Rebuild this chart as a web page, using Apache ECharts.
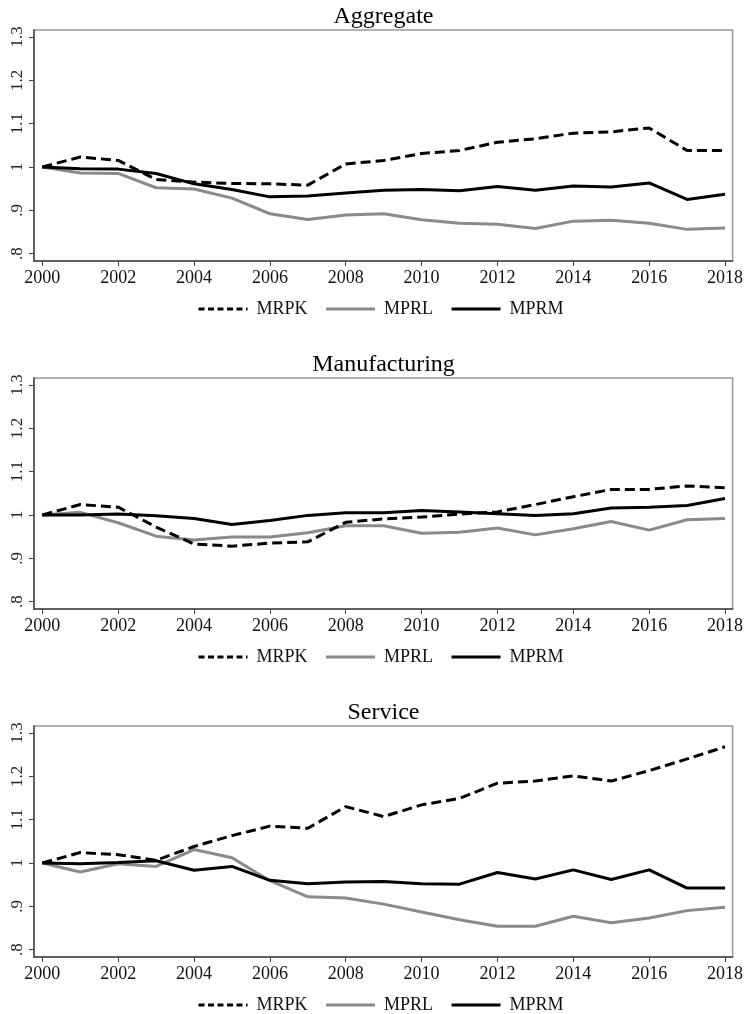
<!DOCTYPE html>
<html>
<head>
<meta charset="utf-8">
<script src="https://cdn.jsdelivr.net/npm/echarts@6/dist/echarts.min.js"></script>
<style>
html,body{margin:0;padding:0;background:#fff;}
#c{width:746px;height:1014px;}
</style>
</head>
<body>
<div id="c"></div>
<script>
const years = [2000,2001,2002,2003,2004,2005,2006,2007,2008,2009,2010,2011,2012,2013,2014,2015,2016,2017,2018];
const xTicks = [2000,2002,2004,2006,2008,2010,2012,2014,2016,2018];
const yTicks = [0.8,0.9,1.0,1.1,1.2,1.3];
const panelTitles = ['Aggregate','Manufacturing','Service'];
const seriesNames = ['MRPK','MPRL','MPRM'];

const aggMRPK = [1.000,1.023,1.015,0.971,0.965,0.962,0.961,0.958,1.007,1.015,1.031,1.038,1.057,1.065,1.078,1.081,1.090,1.038,1.038];
const aggMPRL = [1.000,0.986,0.985,0.952,0.949,0.928,0.892,0.879,0.889,0.892,0.878,0.870,0.868,0.858,0.875,0.877,0.870,0.856,0.859];
const aggMPRM = [1.000,0.996,0.995,0.985,0.961,0.948,0.931,0.933,0.940,0.946,0.948,0.945,0.955,0.946,0.956,0.954,0.963,0.925,0.937];

const manMRPK = [1.000,1.024,1.018,0.972,0.933,0.928,0.935,0.938,0.983,0.991,0.995,1.002,1.007,1.024,1.042,1.059,1.059,1.067,1.063];
const manMPRL = [1.000,1.006,0.982,0.951,0.942,0.949,0.949,0.959,0.975,0.975,0.958,0.960,0.970,0.954,0.968,0.985,0.965,0.989,0.992];
const manMPRM = [1.000,1.000,1.002,0.998,0.992,0.978,0.987,0.999,1.005,1.005,1.010,1.007,1.003,0.999,1.003,1.016,1.018,1.022,1.038];

const serMRPK = [1.000,1.024,1.019,1.006,1.038,1.063,1.085,1.080,1.130,1.107,1.134,1.149,1.184,1.189,1.201,1.189,1.213,1.240,1.268];
const serMPRL = [1.000,0.979,0.998,0.992,1.031,1.012,0.959,0.922,0.919,0.905,0.887,0.869,0.854,0.854,0.877,0.862,0.873,0.890,0.898];
const serMPRM = [1.000,0.998,1.001,1.005,0.983,0.992,0.960,0.952,0.956,0.957,0.952,0.951,0.978,0.963,0.984,0.962,0.984,0.942,0.942];

const panels = [
  [aggMRPK, aggMPRL, aggMPRM],
  [manMRPK, manMPRL, manMPRM],
  [serMRPK, serMPRL, serMPRM]
];

const gridTops = [30, 378, 726];
const gridH = 231;
const FONT = '"Liberation Serif","Times New Roman",serif';

const styles = [
  {color:'#000', width:3, type:[10,5]},
  {color:'#8a8a8a', width:3, type:'solid'},
  {color:'#000', width:3, type:'solid'}
];

const option = {
  backgroundColor:'#fff',
  animation:false,
  title: [], grid: [], xAxis: [], yAxis: [], series: [], legend: []
};

function yFmt(v){
  const r = Math.round(v*10)/10;
  if (r === 1) return '1';
  if (r < 1) return String(r).replace(/^0/, '');
  return String(r);
}

panels.forEach((p, i) => {
  const top = gridTops[i];
  option.title.push({
    text: panelTitles[i], left: 383.5, top: top - 25, textAlign: 'center', padding: 0,
    textStyle: {fontFamily: FONT, fontSize: 24, fontWeight: 'normal', color: '#000'}
  });
  option.grid.push({
    left: 34, top: top, width: 699, height: gridH,
    show: true, borderColor: '#9a9a9a', borderWidth: 1.5, backgroundColor: '#fff'
  });
  option.xAxis.push({
    type: 'value', gridIndex: i, min: 1999.78, max: 2018.2,
    splitLine: {show: false},
    axisLine: {show: true, onZero: false, lineStyle: {color: '#444', width: 1.5}},
    axisTick: {show: true, customValues: xTicks, length: 5, lineStyle: {color: '#444', width: 1}},
    axisLabel: {show: true, customValues: xTicks, margin: 8, fontFamily: FONT, fontSize: 18, color: '#111',
      formatter: v => String(Math.round(v))}
  });
  option.yAxis.push({
    type: 'value', gridIndex: i, min: 0.783, max: 1.316,
    splitLine: {show: false},
    axisLine: {show: true, onZero: false, lineStyle: {color: '#444', width: 1.5}},
    axisTick: {show: true, customValues: yTicks, length: 5, lineStyle: {color: '#444', width: 1}},
    axisLabel: {show: true, customValues: yTicks, rotate: 90, margin: 8, fontFamily: FONT, fontSize: 17, color: '#222',
      formatter: yFmt}
  });
  p.forEach((vals, k) => {
    option.series.push({
      name: seriesNames[k], type: 'line', xAxisIndex: i, yAxisIndex: i,
      data: years.map((y, j) => [y, vals[j]]),
      symbol: 'none', showSymbol: false, smooth: false,
      lineStyle: {color: styles[k].color, width: styles[k].width, type: styles[k].type},
      itemStyle: {color: styles[k].color},
      z: k === 1 ? 2 : 3
    });
  });
  option.legend.push({
    left: 197, top: top + gridH + 39, orient: 'horizontal', padding: 0,
    itemWidth: 49, itemHeight: 14, itemGap: 17,
    selectedMode: false,
    itemStyle: {opacity: 0},
    data: [
      {name: 'MRPK', lineStyle: {type: [6, 3.5], width: 3, color: '#000'}},
      {name: 'MPRL', lineStyle: {width: 3, color: '#8a8a8a'}},
      {name: 'MPRM', lineStyle: {width: 3, color: '#000'}}
    ],
    textStyle: {fontFamily: FONT, fontSize: 18, color: '#111', padding: [0, 0, 0, 4]}
  });
});

const chart = echarts.init(document.getElementById('c'), null, {renderer: 'canvas'});
chart.setOption(option);
</script>
</body>
</html>
